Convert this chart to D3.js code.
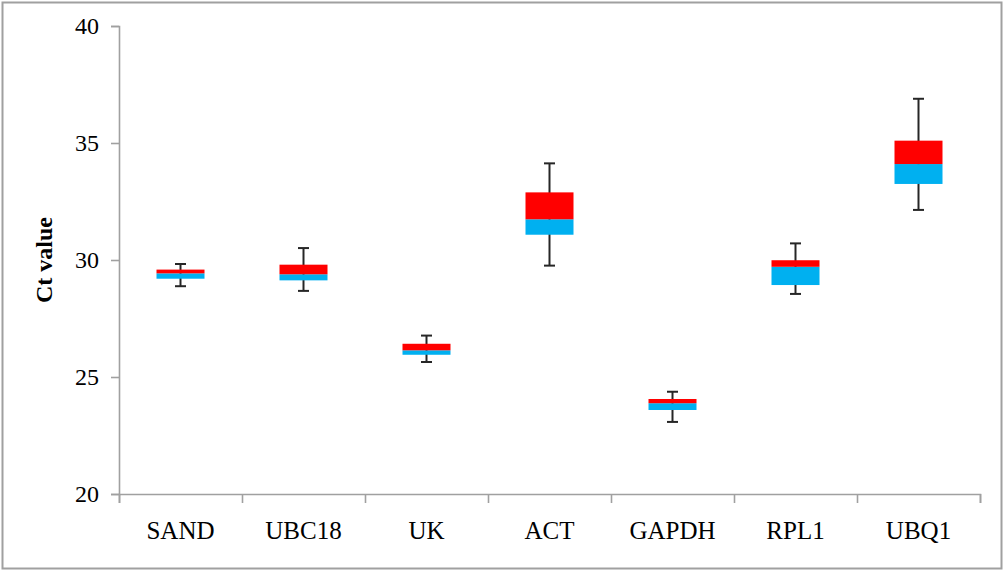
<!DOCTYPE html>
<html>
<head>
<meta charset="utf-8">
<script src="https://cdn.jsdelivr.net/npm/d3@7"></script>
<style>
  body { margin: 0; background: #fff; }
  svg { display: block; }
  .axis path, .axis line { stroke: #a0a0a0; stroke-width: 1.6px; }
  .axis text { font-family: "Times New Roman", "Liberation Serif", serif; fill: #000; }
</style>
</head>
<body>
<div id="chart"></div>
<script>
// Ct-Werte pro Gen
var genes = ["SAND", "UBC18", "UK", "ACT", "GAPDH", "RPL1", "UBQ1"];
var minVals = [28.88, 28.68, 25.64, 29.76, 23.08, 28.55, 32.14];
var q1Vals = [29.20, 29.13, 25.95, 31.08, 23.59, 28.93, 33.25];
var medianVals = [29.43, 29.39, 26.14, 31.74, 23.88, 29.71, 34.10];
var q3Vals = [29.59, 29.80, 26.42, 32.89, 24.06, 29.99, 35.10];
var maxVals = [29.83, 30.51, 26.77, 34.13, 24.37, 30.71, 36.89];
var yTicks = [20, 25, 30, 35, 40];

var width = 1004, height = 571;
var margin = { top: 26, right: 24, bottom: 77, left: 119 };
var boxWidth = 48, capWidth = 11;

var data = genes.map(function (g, i) {
    return { gene: g, min: minVals[i], q1: q1Vals[i], median: medianVals[i], q3: q3Vals[i], max: maxVals[i] };
});

var svg = d3.select("#chart").append("svg")
    .attr("width", width)
    .attr("height", height);

// Rahmen
svg.append("rect")
    .attr("x", 2.5).attr("y", 2.5)
    .attr("width", width - 5).attr("height", height - 5)
    .attr("fill", "none")
    .attr("stroke", "#a0a0a0")
    .attr("stroke-width", 2);

var x = d3.scaleBand().domain(genes).range([margin.left, width - margin.right]);
var xEdge = d3.scaleLinear().domain([0, genes.length]).range([margin.left, width - margin.right]);
var y = d3.scaleLinear().domain([20, 40]).range([height - margin.bottom, margin.top]);

// y-Achse
svg.append("g")
    .attr("class", "y axis")
    .attr("transform", "translate(" + margin.left + ",0)")
    .call(d3.axisLeft(y).tickValues(yTicks).tickSize(8).tickSizeOuter(8).tickPadding(12))
    .selectAll("text").style("font-size", "24px");

// x-Achse: Striche an den Kategoriegrenzen
svg.append("g")
    .attr("class", "x axis")
    .attr("transform", "translate(0," + (height - margin.bottom) + ")")
    .call(d3.axisBottom(xEdge).tickValues(d3.range(genes.length + 1)).tickSize(9).tickSizeOuter(9).tickFormat(""));

// x-Achse: Beschriftungen in der Mitte
svg.append("g")
    .attr("class", "x axis labels")
    .attr("transform", "translate(0," + (height - margin.bottom) + ")")
    .call(d3.axisBottom(x).tickSize(0).tickPadding(27))
    .call(function (g) { g.select(".domain").remove(); })
    .selectAll("text").style("font-size", "25px");

// Achsentitel
svg.append("text")
    .attr("transform", "translate(52," + ((margin.top + height - margin.bottom) / 2) + ") rotate(-90)")
    .attr("text-anchor", "middle")
    .style("font-family", "'Times New Roman', 'Liberation Serif', serif")
    .style("font-weight", "bold")
    .style("font-size", "24px")
    .text("Ct value");

var boxes = svg.selectAll(".gene")
    .data(data)
    .enter().append("g")
    .attr("class", "gene")
    .attr("transform", function (d) { return "translate(" + (x(d.gene) + x.bandwidth() / 2) + ",0)"; });

// Whisker
boxes.append("line")
    .attr("x1", 0).attr("x2", 0)
    .attr("y1", function (d) { return y(d.max); })
    .attr("y2", function (d) { return y(d.min); })
    .attr("stroke", "#262626").attr("stroke-width", 2);

boxes.append("line")
    .attr("x1", -capWidth / 2).attr("x2", capWidth / 2)
    .attr("y1", function (d) { return y(d.max); })
    .attr("y2", function (d) { return y(d.max); })
    .attr("stroke", "#262626").attr("stroke-width", 2);

boxes.append("line")
    .attr("x1", -capWidth / 2).attr("x2", capWidth / 2)
    .attr("y1", function (d) { return y(d.min); })
    .attr("y2", function (d) { return y(d.min); })
    .attr("stroke", "#262626").attr("stroke-width", 2);

// unterer Teil (Q1 - Median)
boxes.append("rect")
    .attr("x", -boxWidth / 2)
    .attr("width", boxWidth)
    .attr("y", function (d) { return y(d.median); })
    .attr("height", function (d) { return y(d.q1) - y(d.median); })
    .attr("fill", "#00B0F0");

// oberer Teil (Median - Q3)
boxes.append("rect")
    .attr("x", -boxWidth / 2)
    .attr("width", boxWidth)
    .attr("y", function (d) { return y(d.q3); })
    .attr("height", function (d) { return y(d.median) - y(d.q3); })
    .attr("fill", "#FF0000");
</script>
</body>
</html>
